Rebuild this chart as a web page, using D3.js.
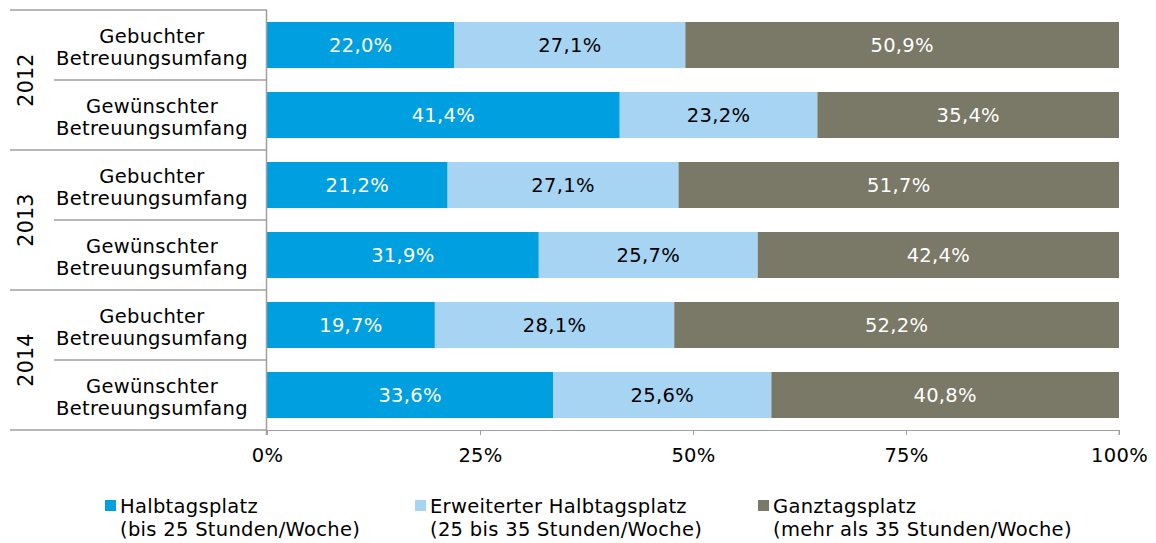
<!DOCTYPE html>
<html>
<head>
<meta charset="utf-8">
<script src="https://cdn.jsdelivr.net/npm/d3@7"></script>
<style>
  body { margin: 0; background: #fff; }
  svg text { font-family: "DejaVu Sans", Verdana, sans-serif; letter-spacing: 0.3px; }
</style>
</head>
<body>
<div id="chart"></div>
<script>
// Data
const years = ["2012", "2013", "2014"];
const rowTypes = [["Gebuchter", "Betreuungsumfang"], ["Gewünschter", "Betreuungsumfang"]];
const halbtags = [22.0, 41.4, 21.2, 31.9, 19.7, 33.6];
const erweitert = [27.1, 23.2, 27.1, 25.7, 28.1, 25.6];
const ganztags = [50.9, 35.4, 51.7, 42.4, 52.2, 40.8];
const seriesNames = [["Halbtagsplatz", "(bis 25 Stunden/Woche)"],
                     ["Erweiterter Halbtagsplatz", "(25 bis 35 Stunden/Woche)"],
                     ["Ganztagsplatz", "(mehr als 35 Stunden/Woche)"]];
const tickValues = [0, 25, 50, 75, 100];

const colors = ["#009fe0", "#a8d4f3", "#7a7866"];
const labelColors = ["#fff", "#000", "#fff"];
const axisColor = "#a0a0a0";
const fontSize = 19.5;

// Build rows
const rows = [];
years.forEach((y, yi) => rowTypes.forEach((t, ti) => rows.push({ id: y + "-" + ti, year: y, label: t, idx: yi * 2 + ti })));
const stackInput = rows.map(r => ({ id: r.id, a: halbtags[r.idx], b: erweitert[r.idx], c: ganztags[r.idx] }));
const stacked = d3.stack().keys(["a", "b", "c"])(stackInput);

const W = 1156, H = 543;
const x0 = 267, x1 = 1119, yTop = 10, yBot = 430;

const svg = d3.select("#chart").append("svg").attr("width", W).attr("height", H);

const x = d3.scaleLinear().domain([0, 100]).range([x0, x1]);
const y = d3.scaleBand().domain(rows.map(r => r.id)).range([yTop, yBot])
  .paddingInner(0.343).paddingOuter(0.1715);
const step = y.step();

// Bars
const groups = svg.selectAll(".series").data(stacked).enter().append("g").attr("fill", (d, i) => colors[i]);
groups.selectAll("rect").data(d => d).enter().append("rect")
  .attr("x", d => x(d[0]))
  .attr("y", d => y(d.data.id))
  .attr("width", d => x(d[1]) - x(d[0]))
  .attr("height", y.bandwidth());

// Value labels
stacked.forEach((s, si) => {
  svg.selectAll(".lbl" + si).data(s).enter().append("text")
    .attr("x", d => (x(d[0]) + x(d[1])) / 2)
    .attr("y", d => y(d.data.id) + y.bandwidth() / 2)
    .attr("dy", "0.36em")
    .attr("text-anchor", "middle")
    .attr("font-size", fontSize)
    .attr("fill", labelColors[si])
    .text(d => (d[1] - d[0]).toFixed(1).replace(".", ",") + "%");
});

// X axis
const xAxis = d3.axisBottom(x).tickValues(tickValues).tickFormat(d => d + "%").tickSize(5).tickPadding(13);
const gx = svg.append("g").attr("transform", `translate(0,${yBot})`).call(xAxis);
gx.select(".domain").attr("stroke", axisColor).attr("d", `M${x0},0.5H${x1}V5`);
gx.selectAll(".tick line").attr("stroke", axisColor);
gx.selectAll(".tick text").attr("font-size", fontSize).attr("fill", "#000").attr("font-family", null);

// Y axis line
svg.append("line").attr("x1", x0 - 0.5).attr("x2", x0 - 0.5).attr("y1", yTop).attr("y2", yBot + 5)
  .attr("stroke", axisColor).attr("stroke-width", 1.5);

// Row separators (category boundaries)
rows.forEach((r, i) => {
  const yy = y(r.id) - (step - y.bandwidth()) / 2;
  svg.append("line").attr("x1", i % 2 === 0 ? 10 : 54).attr("x2", x0).attr("y1", yy).attr("y2", yy)
    .attr("stroke", axisColor).attr("stroke-width", 1.5);
});
svg.append("line").attr("x1", 10).attr("x2", x0).attr("y1", yBot).attr("y2", yBot)
  .attr("stroke", axisColor).attr("stroke-width", 1.5);

// Category labels
rows.forEach(r => {
  const cy = y(r.id) + y.bandwidth() / 2;
  const t = svg.append("text").attr("text-anchor", "middle").attr("font-size", fontSize).attr("fill", "#000");
  t.append("tspan").attr("x", 152).attr("y", cy - 2.5).text(r.label[0]);
  t.append("tspan").attr("x", 152).attr("y", cy + 19.5).text(r.label[1]);
});

// Year labels
years.forEach((yr, i) => {
  const cy = (y(yr + "-0") + y(yr + "-1") + y.bandwidth()) / 2;
  svg.append("text").attr("transform", `translate(33,${cy}) rotate(-90)`)
    .attr("text-anchor", "middle").attr("font-size", 20.5).attr("fill", "#000").text(yr);
});

// Legend
const legendX = [105, 415, 758];
seriesNames.forEach((n, i) => {
  const g = svg.append("g").attr("transform", `translate(${legendX[i]},0)`);
  g.append("rect").attr("x", 0).attr("y", 500).attr("width", 11).attr("height", 11).attr("fill", colors[i]);
  const t = g.append("text").attr("font-size", fontSize).attr("fill", "#000");
  t.append("tspan").attr("x", 15).attr("y", 513).text(n[0]);
  t.append("tspan").attr("x", 15).attr("y", 536).text(n[1]);
});
</script>
</body>
</html>
